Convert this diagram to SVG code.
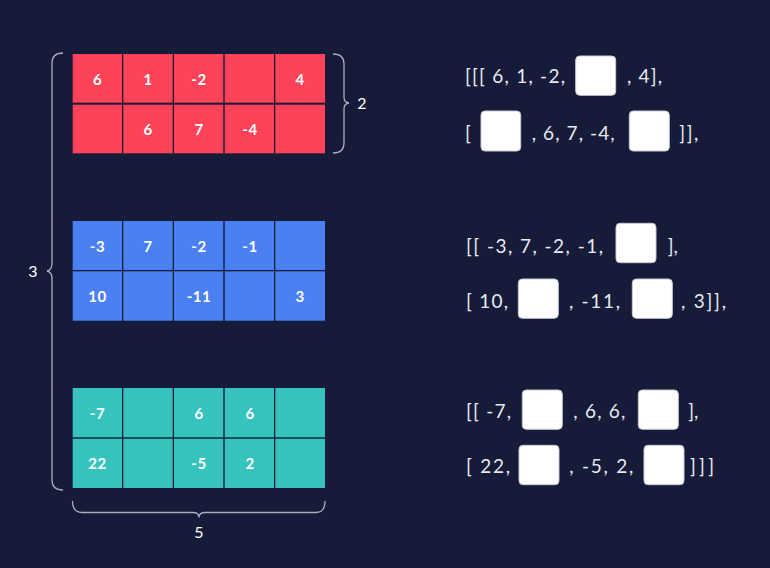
<svg xmlns="http://www.w3.org/2000/svg" width="770" height="568" viewBox="0 0 770 568">
<style>
.r{fill:#fe4359}.b{fill:#4b80f3}.t{fill:#37c3bd}
.n{font-family:Lato,"Noto Sans",sans-serif;font-size:15px;font-weight:700;fill:#ffffff;text-anchor:middle;letter-spacing:0.5px}
.l{font-family:Lato,"Noto Sans",sans-serif;font-size:19px;fill:#e8eaf2}
.bx{fill:#ffffff;stroke:#c9cbd4;stroke-width:1}
.br{fill:none;stroke:#a9aebf;stroke-width:1.3}
.d{font-family:Lato,"Noto Sans",sans-serif;font-size:16px;fill:#ffffff;text-anchor:middle}
</style>
<rect width="770" height="568" fill="#151b38"/>
<g id="red-block">
<rect class="r" x="72.7" y="54" width="49.3" height="48.7"/>
<rect class="r" x="123.3" y="54" width="49.4" height="48.7"/>
<rect class="r" x="174" y="54" width="49.3" height="48.7"/>
<rect class="r" x="224.7" y="54" width="49.3" height="48.7"/>
<rect class="r" x="275.3" y="54" width="49.7" height="48.7"/>
<rect class="r" x="72.7" y="104.7" width="49.3" height="48.6"/>
<rect class="r" x="123.3" y="104.7" width="49.4" height="48.6"/>
<rect class="r" x="174" y="104.7" width="49.3" height="48.6"/>
<rect class="r" x="224.7" y="104.7" width="49.3" height="48.6"/>
<rect class="r" x="275.3" y="104.7" width="49.7" height="48.6"/>
<text class="n" x="97.5" y="84.5">6</text>
<text class="n" x="148" y="84.5">1</text>
<text class="n" x="199" y="84.5">-2</text>
<text class="n" x="300" y="84.5">4</text>
<text class="n" x="148" y="135">6</text>
<text class="n" x="199" y="135">7</text>
<text class="n" x="250" y="135">-4</text>
</g>
<g id="blue-block">
<rect class="b" x="72.7" y="221" width="49.3" height="49"/>
<rect class="b" x="123.3" y="221" width="49.4" height="49"/>
<rect class="b" x="174" y="221" width="49.3" height="49"/>
<rect class="b" x="224.7" y="221" width="49.3" height="49"/>
<rect class="b" x="275.3" y="221" width="49.7" height="49"/>
<rect class="b" x="72.7" y="271.3" width="49.3" height="49.4"/>
<rect class="b" x="123.3" y="271.3" width="49.4" height="49.4"/>
<rect class="b" x="174" y="271.3" width="49.3" height="49.4"/>
<rect class="b" x="224.7" y="271.3" width="49.3" height="49.4"/>
<rect class="b" x="275.3" y="271.3" width="49.7" height="49.4"/>
<text class="n" x="97.5" y="251.5">-3</text>
<text class="n" x="148" y="251.5">7</text>
<text class="n" x="199" y="251.5">-2</text>
<text class="n" x="250" y="251.5">-1</text>
<text class="n" x="97.5" y="301.5">10</text>
<text class="n" x="199" y="301.5">-11</text>
<text class="n" x="300" y="301.5">3</text>
</g>
<g id="teal-block">
<rect class="t" x="72.7" y="388" width="49.3" height="49.3"/>
<rect class="t" x="123.3" y="388" width="49.4" height="49.3"/>
<rect class="t" x="174" y="388" width="49.3" height="49.3"/>
<rect class="t" x="224.7" y="388" width="49.3" height="49.3"/>
<rect class="t" x="275.3" y="388" width="49.7" height="49.3"/>
<rect class="t" x="72.7" y="438.7" width="49.3" height="49.3"/>
<rect class="t" x="123.3" y="438.7" width="49.4" height="49.3"/>
<rect class="t" x="174" y="438.7" width="49.3" height="49.3"/>
<rect class="t" x="224.7" y="438.7" width="49.3" height="49.3"/>
<rect class="t" x="275.3" y="438.7" width="49.7" height="49.3"/>
<text class="n" x="97.5" y="418.5">-7</text>
<text class="n" x="199" y="418.5">6</text>
<text class="n" x="250" y="418.5">6</text>
<text class="n" x="97.5" y="469">22</text>
<text class="n" x="199" y="469">-5</text>
<text class="n" x="250" y="469">2</text>
</g>
<g id="braces">
<path class="br" d="M63,53 Q52,53 52,63 L52,263 Q52,270 47,271 Q52,272 52,279 L52,480 Q52,490 63,490"/>
<text class="d" x="33" y="276.5">3</text>
<path class="br" d="M333,54 Q344,54 344,64 L344,97 Q344,102.5 349,103 Q344,103.5 344,109 L344,143 Q344,153 333,153"/>
<text class="d" x="362" y="108.5">2</text>
<path class="br" d="M72.5,501 Q72.5,512.5 82,512.5 L193,512.5 Q199,512.5 199,517.5 Q199,512.5 205,512.5 L316,512.5 Q325,512.5 325,501"/>
<text class="d" x="199" y="537.5">5</text>
</g>
<g id="array-text">
<text class="l" x="465" y="83" textLength="100" lengthAdjust="spacing">[[[ 6, 1, -2,</text>
<rect class="bx" x="575.7" y="56" width="40" height="39.3" rx="4"/>
<text class="l" x="627" y="83" textLength="35" lengthAdjust="spacing">, 4],</text>
<text class="l" x="465" y="140">[</text>
<rect class="bx" x="481" y="111" width="39.7" height="40" rx="4"/>
<text class="l" x="531.7" y="140" textLength="83" lengthAdjust="spacing">, 6, 7, -4,</text>
<rect class="bx" x="629.3" y="111" width="40" height="40" rx="4"/>
<text class="l" x="679.3" y="140" textLength="19" lengthAdjust="spacing">]],</text>
<text class="l" x="466" y="253.3" textLength="137" lengthAdjust="spacing">[[ -3, 7, -2, -1,</text>
<rect class="bx" x="616" y="223.3" width="40" height="39.4" rx="4"/>
<text class="l" x="667.7" y="253.3">],</text>
<text class="l" x="466" y="308.3" textLength="42" lengthAdjust="spacing">[ 10,</text>
<rect class="bx" x="518.3" y="279" width="40" height="39.3" rx="4"/>
<text class="l" x="569" y="308.3" textLength="51" lengthAdjust="spacing">, -11,</text>
<rect class="bx" x="632.3" y="279" width="40" height="39.3" rx="4"/>
<text class="l" x="681" y="308.3" textLength="45" lengthAdjust="spacing">, 3]],</text>
<text class="l" x="466" y="418.3" textLength="45" lengthAdjust="spacing">[[ -7,</text>
<rect class="bx" x="522.3" y="390" width="40" height="39.3" rx="4"/>
<text class="l" x="573.3" y="418.3" textLength="52" lengthAdjust="spacing">, 6, 6,</text>
<rect class="bx" x="638.3" y="390" width="40" height="39.3" rx="4"/>
<text class="l" x="688.3" y="418.3">],</text>
<text class="l" x="466" y="473.3" textLength="44" lengthAdjust="spacing">[ 22,</text>
<rect class="bx" x="519" y="445.3" width="40" height="39.4" rx="4"/>
<text class="l" x="569.3" y="473.3" textLength="64" lengthAdjust="spacing">, -5, 2,</text>
<rect class="bx" x="644" y="445.3" width="40" height="39.4" rx="4"/>
<text class="l" x="690" y="473.3" textLength="24" lengthAdjust="spacing">]]]</text>
</g>
</svg>
